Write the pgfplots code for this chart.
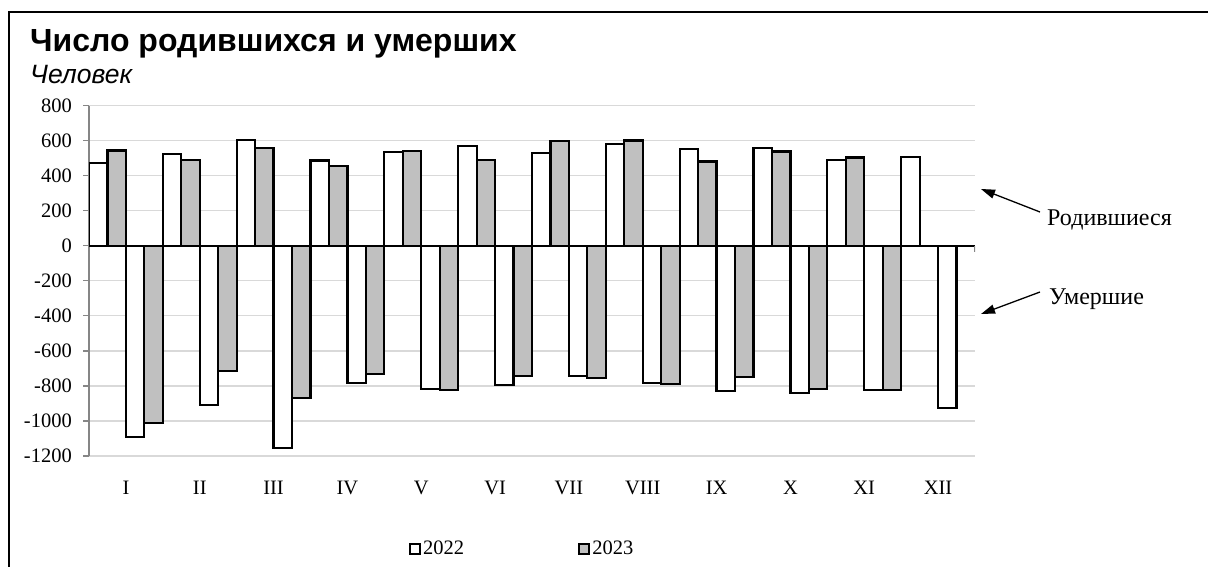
\documentclass[border=0pt]{standalone}
\usepackage{pgfplots}
\pgfplotsset{compat=1.18}
\usepackage{fontspec}
\setmainfont{Liberation Serif}
\newfontfamily\arialfont{Liberation Sans}
\usetikzlibrary{arrows.meta}
\definecolor{barfill}{HTML}{C0C0C0}
\definecolor{gridgray}{HTML}{D9D9D9}
\definecolor{axisgray}{HTML}{868686}
\begin{document}
\begin{tikzpicture}
\useasboundingbox (0bp,0bp) rectangle (1208bp,-567bp);
\draw[line width=2bp] (9bp,-570bp) -- (9bp,-12bp) -- (1210bp,-12bp);
\node[anchor=base west, inner sep=0pt, font=\arialfont\bfseries\fontsize{32bp}{36bp}\selectfont] at (30bp,-51bp) {Число родившихся и умерших};
\node[anchor=base west, inner sep=0pt, font=\arialfont\itshape\fontsize{26.5bp}{30bp}\selectfont] at (30bp,-83bp) {Человек};
\begin{axis}[
  at={(89bp,-456bp)}, anchor=south west,
  scale only axis, width=886bp, height=350.5bp,
  xmin=-0.5, xmax=11.5, ymin=-1200, ymax=800,
  ytick={-1200,-1000,-800,-600,-400,-200,0,200,400,600,800},
  xtick={0,1,2,3,4,5,6,7,8,9,10,11},
  xticklabels={I,II,III,IV,V,VI,VII,VIII,IX,X,XI,XII},
  axis x line*=bottom, axis y line*=left,
  x axis line style={draw=none},
  y axis line style={draw=axisgray, line width=1.3bp},
  xtick style={draw=none},
  ytick style={draw=axisgray, line width=1.3bp},
  tick align=outside, major tick length=6bp,
  ymajorgrids, grid style={draw=gridgray, line width=1.3bp},
  extra y ticks={0}, extra y tick labels={},
  extra y tick style={grid style={draw=black, line width=1.8bp}, major tick length=0pt},
  /pgf/number format/assume math mode=true,
  /pgf/number format/1000 sep={},
  tick label style={font=\fontsize{20.5bp}{24bp}\selectfont},
  yticklabel style={anchor=east, inner sep=0pt, xshift=-11bp},
  xticklabel style={anchor=base, inner sep=0pt, yshift=-32bp},
  ybar, bar width=0.25,
  every axis plot/.append style={draw=black, line width=2.2bp},
  legend columns=2,
  legend style={draw=none, fill=none, at={(axis description cs:0.361,-0.265)}, anchor=west,
    inner sep=0pt, font=\fontsize{20.5bp}{24bp}\selectfont,
    /tikz/every even column/.append style={column sep=112bp}},
  legend image code/.code={\draw[#1, line width=2.2bp] (0bp,-5.5bp) rectangle (10bp,4.5bp);},
]
\addplot[fill=white, bar shift=-0.375] coordinates {
(0,474) (1,522) (2,602) (3,486) (4,533) (5,571) (6,531) (7,579) (8,550) (9,558) (10,490) (11,507)};
\addplot[fill=barfill, bar shift=-0.125] coordinates {
(0,543) (1,490) (2,556) (3,455) (4,541) (5,490) (6,598) (7,600) (8,480) (9,537) (10,503)};
\addplot[fill=white, bar shift=0.125, forget plot] coordinates {
(0,-1091) (1,-910) (2,-1154) (3,-783) (4,-819) (5,-796) (6,-745) (7,-785) (8,-830) (9,-842) (10,-825) (11,-926)};
\addplot[fill=barfill, bar shift=0.375, forget plot] coordinates {
(0,-1011) (1,-714) (2,-867) (3,-731) (4,-823) (5,-745) (6,-754) (7,-790) (8,-749) (9,-819) (10,-825)};
\legend{2022,2023}
\draw[draw=axisgray, line width=1.3bp] (axis cs:11.5,0) -- ++(0bp,-6bp);
\end{axis}
\draw[line width=1.3bp, -{Triangle[length=14bp,width=9bp]}] (1040bp,-212bp) -- (981bp,-189bp);
\draw[line width=1.3bp, -{Triangle[length=14bp,width=9bp]}] (1040bp,-292bp) -- (981bp,-314bp);
\node[anchor=base west, inner sep=0pt, font=\fontsize{24bp}{28bp}\selectfont] at (1047bp,-225bp) {Родившиеся};
\node[anchor=base west, inner sep=0pt, font=\fontsize{24bp}{28bp}\selectfont] at (1049bp,-304bp) {Умершие};
\end{tikzpicture}
\end{document}
